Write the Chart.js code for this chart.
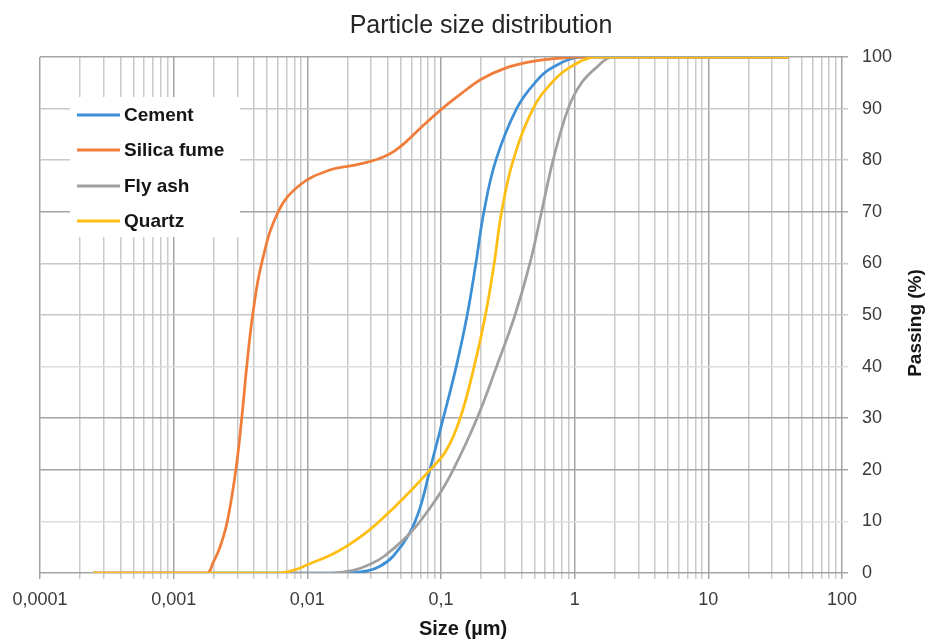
<!DOCTYPE html>
<html>
<head>
<meta charset="utf-8">
<script src="https://cdn.jsdelivr.net/npm/chart.js@4.4.1/dist/chart.umd.min.js"></script>
<style>
  html, body { margin: 0; padding: 0; background: #ffffff; }
  #wrap { position: relative; width: 927px; height: 640px; }
</style>
</head>
<body>
<div id="wrap"><canvas id="c" width="927" height="640"></canvas></div>
<script>
// ---------- DATA ----------
const chartTitle = 'Particle size distribution';
const xAxisTitle = 'Size (µm)';
const yAxisTitle = 'Passing (%)';
const seriesNames = ['Cement', 'Silica fume', 'Fly ash', 'Quartz'];

const xDecades = [0.0001, 0.001, 0.01, 0.1, 1, 10, 100];
const xTickLabels = ['0,0001', '0,001', '0,01', '0,1', '1', '10', '100'];
const yTicks = [0, 10, 20, 30, 40, 50, 60, 70, 80, 90, 100];

const cementSize    = [0.00025, 0.02, 0.028, 0.035, 0.044, 0.0585, 0.07, 0.0826, 0.104, 0.13, 0.157, 0.1824, 0.2094, 0.2575, 0.368, 0.504, 0.687, 1.15, 40];
const cementPassing = [0,       0,    0.4,   1.3,   3.3,   7.8,    12.8, 20,     30,    40,   50,    60,     70,     80,     90,    95,    98,    100,  100];

const silicaSize    = [0.00025, 0.001765, 0.00197, 0.00222, 0.00252, 0.00292, 0.00323, 0.00352, 0.0039, 0.00455, 0.00605, 0.0088, 0.0147, 0.022, 0.03, 0.037, 0.045, 0.055, 0.07, 0.1,  0.14, 0.2,  0.3,  0.45, 0.7,  1.2, 40];
const silicaPassing = [0,       0,        2,       5,       10,      20,      30,      40,      50,     60,      70,      75.2,   78.1,   79,    79.8, 80.6,  81.8,  83.6,  86.2, 89.8, 92.8, 95.7, 97.8, 99,   99.7, 100, 100];

const flyashSize    = [0.00025, 0.0155, 0.022, 0.03, 0.0378, 0.06, 0.093, 0.1233, 0.1862, 0.2604, 0.358, 0.4624, 0.5653, 0.69, 0.894, 1.126, 1.46, 1.93, 40];
const flyashPassing = [0,       0,      0.5,   1.8,  3.3,    8,    14.5,  20,     30,     40,     50,    60,     70,     80,   90,    95,    98,   100,  100];

const quartzSize    = [0.00025, 0.006, 0.008, 0.01, 0.015, 0.02, 0.03, 0.045, 0.065, 0.0826, 0.108, 0.138, 0.177, 0.215, 0.25, 0.284, 0.347, 0.489, 0.672, 0.92, 1.46, 40];
const quartzPassing = [0,       0,     0.6,   1.6,  3.5,   5.3,  8.6,  12.8,  17,    20,     23.5,  29.7,  40,    50,    60,   70,    80,    90,    95,    98,   100,  100];

// ---------- STYLE ----------
const seriesColors = ['#3d8fd6', '#f07d3a', '#a0a0a0', '#ffbe12'];
const seriesOrder  = [4, 3, 2, 1]; // Quartz drawn on top
const FONT = '"Liberation Sans", Arial, sans-serif';

function pts(xs, ys) { return xs.map((x, i) => ({ x: x, y: ys[i] })); }
const seriesData = [
  pts(cementSize, cementPassing),
  pts(silicaSize, silicaPassing),
  pts(flyashSize, flyashPassing),
  pts(quartzSize, quartzPassing)
];

const datasets = seriesNames.map((name, i) => ({
  label: name,
  data: seriesData[i],
  borderColor: seriesColors[i],
  backgroundColor: seriesColors[i],
  borderWidth: 2.75,
  pointRadius: 0,
  pointHoverRadius: 0,
  showLine: true,
  fill: false,
  tension: 0.4,
  cubicInterpolationMode: 'default',
  order: seriesOrder[i]
}));

function isDecade(v) {
  return xDecades.some(d => Math.abs(v / d - 1) < 1e-6);
}

// custom text + legend drawing (positions as in the reference)
const decorPlugin = {
  id: 'decor',
  afterDraw(chart) {
    const ctx = chart.ctx;
    ctx.save();
    // legend box
    ctx.fillStyle = '#ffffff';
    ctx.fillRect(70, 97, 170, 140);
    const rowY = [115, 150, 186, 221];
    chart.data.datasets.forEach((ds, i) => {
      ctx.strokeStyle = ds.borderColor;
      ctx.lineWidth = 3;
      ctx.beginPath();
      ctx.moveTo(77, rowY[i]);
      ctx.lineTo(120, rowY[i]);
      ctx.stroke();
      ctx.fillStyle = '#161616';
      ctx.font = 'bold 19px ' + FONT;
      ctx.textAlign = 'left';
      ctx.textBaseline = 'middle';
      ctx.fillText(ds.label, 124, rowY[i] + 1);
    });
    // title
    ctx.fillStyle = '#262626';
    ctx.font = '25px ' + FONT;
    ctx.textAlign = 'center';
    ctx.textBaseline = 'middle';
    ctx.fillText(chartTitle, 481, 26);
    // x axis title
    ctx.fillStyle = '#161616';
    ctx.font = 'bold 20px ' + FONT;
    ctx.fillText(xAxisTitle, 463, 629);
    // y axis title
    ctx.translate(916, 323);
    ctx.rotate(-Math.PI / 2);
    ctx.font = 'bold 19px ' + FONT;
    ctx.fillText(yAxisTitle, 0, 0);
    ctx.restore();
  }
};

new Chart(document.getElementById('c'), {
  type: 'scatter',
  data: { datasets: datasets },
  options: {
    responsive: false,
    animation: false,
    devicePixelRatio: 1,
    layout: { padding: { left: 40, top: 57, right: 0, bottom: 0 } },
    plugins: {
      legend: { display: false },
      title: { display: false },
      tooltip: { enabled: false }
    },
    scales: {
      x: {
        type: 'logarithmic',
        position: 'bottom',
        min: 0.0001,
        max: 100,
        afterBuildTicks(scale) {
          const t = [];
          for (let k = 0; k < xDecades.length; k++) {
            const d = xDecades[k];
            if (k === xDecades.length - 1) { t.push({ value: d }); break; }
            for (let m = 1; m <= 9; m++) t.push({ value: d * m });
          }
          scale.ticks = t;
        },
        afterFit(scale) { scale.height = 67; },
        border: { display: false },
        grid: {
          drawTicks: true,
          tickLength: 6,
          lineWidth: 1.5,
          color(ctx) {
            const v = ctx.tick ? ctx.tick.value : 0;
            return isDecade(v) ? '#a2a5a8' : '#c8cacc';
          }
        },
        ticks: {
          autoSkip: false,
          maxRotation: 0,
          padding: 10,
          color: '#3a3a3a',
          font: { family: FONT, size: 18 },
          callback(value) {
            const idx = xDecades.findIndex(d => Math.abs(value / d - 1) < 1e-6);
            return idx >= 0 ? xTickLabels[idx] : '';
          }
        }
      },
      y: {
        type: 'linear',
        position: 'right',
        min: 0,
        max: 100,
        afterBuildTicks(scale) { scale.ticks = yTicks.map(v => ({ value: v })); },
        afterFit(scale) { scale.width = 85; },
        border: { display: false },
        grid: {
          drawTicks: true,
          tickLength: 6,
          lineWidth: 1.5,
          color(ctx) {
            const v = ctx.tick ? ctx.tick.value : 0;
            if ([0, 20, 30, 70, 100].includes(v)) return '#a2a5a8';
            if ([10, 40].includes(v)) return '#dcdedf';
            return '#c6c8ca';
          }
        },
        ticks: {
          padding: 14,
          color: '#3a3a3a',
          font: { family: FONT, size: 18 },
          callback(value) { return String(value); }
        }
      }
    }
  },
  plugins: [decorPlugin]
});
</script>
</body>
</html>
